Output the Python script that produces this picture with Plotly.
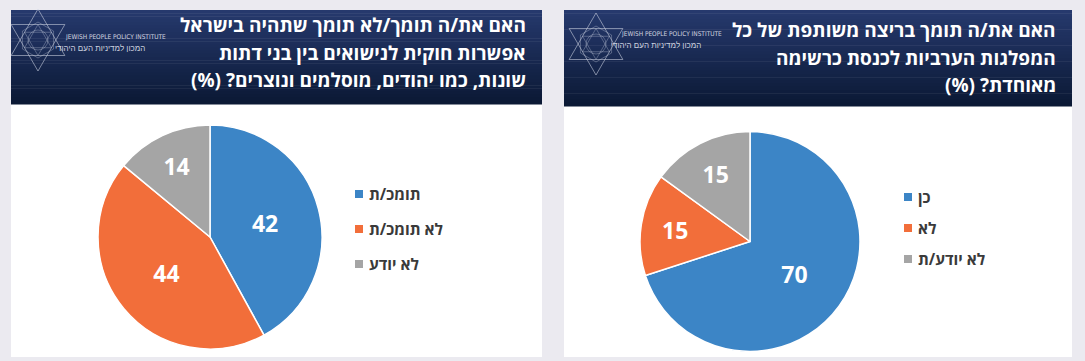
import math
import plotly.graph_objects as go

W, H = 1085, 361

# ---------------- data ----------------
left_title = ["האם את/ה תומך/לא תומך שתהיה בישראל",
              "אפשרות חוקית לנישואים בין בני דתות",
              "שונות, כמו יהודים, מוסלמים ונוצרים? (%)"]
left_labels = ["תומכ/ת", "לא תומכ/ת", "לא יודע"]
left_values = [42, 44, 14]

right_title = ["האם את/ה תומך בריצה משותפת של כל",
               "המפלגות הערביות לכנסת כרשימה",
               "מאוחדת? (%)"]
right_labels = ["כן", "לא", "לא יודע/ת"]
right_values = [70, 15, 15]

colors = ["#3c85c6", "#f26e3a", "#a5a5a5"]

# ---------------- helpers ----------------
def px(x):
    return x / W

def py(y):
    return 1 - y / H

FONT = "Open Sans, Liberation Sans, DejaVu Sans, sans-serif"
RLM = "\u200f"
BG = "#ebeaf0"

fig = go.Figure()
shapes = []
annotations = []

def hex_to_rgb(h):
    h = h.lstrip('#')
    return tuple(int(h[i:i + 2], 16) for i in (0, 2, 4))

def panel(x0, x1, y_top, y_head, y_bot):
    shapes.append(dict(type="rect", xref="paper", yref="paper",
                       x0=px(x0), x1=px(x1), y0=py(y_bot), y1=py(y_top),
                       fillcolor="white", line=dict(width=0), layer="below"))
    top = hex_to_rgb("#26396d")
    bot = hex_to_rgb("#0b1935")
    n = 30
    h = (y_head - y_top) / n
    for i in range(n):
        t = i / (n - 1)
        c = tuple(int(round(top[k] + (bot[k] - top[k]) * t)) for k in range(3))
        shapes.append(dict(type="rect", xref="paper", yref="paper",
                           x0=px(x0), x1=px(x1),
                           y0=py(y_top + (i + 1) * h + 0.5), y1=py(y_top + i * h),
                           fillcolor="rgb(%d,%d,%d)" % c, line=dict(width=0),
                           layer="below"))

def logo(cx, cy, tx, ty):
    r = 31
    lc = "rgba(210,215,230,0.7)"
    def poly(pts):
        return "M " + " L ".join("%f,%f" % (px(x), py(y)) for x, y in pts) + " Z"
    def ring(rad, rot, n):
        return [(cx + rad * math.cos(math.radians(rot + 360 / n * k)),
                 cy - rad * math.sin(math.radians(rot + 360 / n * k))) for k in range(n)]
    for rot in (90, 270):
        shapes.append(dict(type="path", xref="paper", yref="paper",
                           path=poly(ring(r, rot, 3)), line=dict(color=lc, width=0.8)))
    for rot in (90, 270):
        shapes.append(dict(type="path", xref="paper", yref="paper",
                           path=poly(ring(r * 0.5, rot, 3)),
                           line=dict(color="rgba(210,215,230,0.55)", width=0.6)))
    shapes.append(dict(type="path", xref="paper", yref="paper",
                       path=poly(ring(r * 0.58, 30, 6)),
                       line=dict(color="rgba(210,215,230,0.55)", width=0.6)))
    shapes.append(dict(type="circle", xref="paper", yref="paper",
                       x0=px(cx - 10), x1=px(cx + 10), y0=py(cy + 10), y1=py(cy - 10),
                       line=dict(color="rgba(210,215,230,0.55)", width=0.6)))
    annotations.append(dict(xref="paper", yref="paper", x=px(tx), y=py(ty),
                            xanchor="left", yanchor="middle", showarrow=False,
                            text="JEWISH PEOPLE POLICY INSTITUTE",
                            font=dict(family="DejaVu Sans Condensed, Liberation Sans, sans-serif",
                                      size=6.5, color="rgba(225,228,240,0.9)")))
    annotations.append(dict(xref="paper", yref="paper", x=px(tx + 84), y=py(ty + 11),
                            xanchor="right", yanchor="middle", showarrow=False,
                            text="המכון למדיניות העם היהודי",
                            font=dict(family="Liberation Sans, sans-serif",
                                      size=8, color="rgba(225,228,240,0.9)")))

def title(lines, xr, y_first, dy):
    for i, l in enumerate(lines):
        annotations.append(dict(xref="paper", yref="paper", x=px(xr), y=py(y_first + i * dy),
                                xanchor="right", yanchor="middle", align="right",
                                showarrow=False,
                                text="<b>%s</b>" % l + RLM,
                                font=dict(family=FONT, size=19, color="white")))

def legend(labels, x_sq, y0, dy):
    for i, (lab, col) in enumerate(zip(labels, colors)):
        yc = y0 + i * dy
        shapes.append(dict(type="rect", xref="paper", yref="paper",
                           x0=px(x_sq - 4), x1=px(x_sq + 4),
                           y0=py(yc + 4), y1=py(yc - 4),
                           fillcolor=col, line=dict(width=0)))
        annotations.append(dict(xref="paper", yref="paper", x=px(x_sq + 8), y=py(yc),
                                xanchor="left", yanchor="middle", showarrow=False,
                                text="<b>%s</b>" % lab,
                                font=dict(family=FONT, size=15.5, color="#3a3a3a")))

# ---------------- panels ----------------
panel(11, 542, 10, 104, 357)
panel(564, 1072, 10, 106, 357)
logo(38, 40, 63, 37)
logo(596, 44, 619, 34)
title(left_title, 528, 25, 27.5)
title(right_title, 1058, 30, 27.5)
legend(left_labels, 359, 194, 35)
legend(right_labels, 908, 197, 31)

# ---------------- pies ----------------
def pie(labels, values, dom_x, dom_y):
    fig.add_trace(go.Pie(
        labels=labels, values=values, sort=False, direction="clockwise",
        rotation=0, domain=dict(x=dom_x, y=dom_y),
        marker=dict(colors=colors, line=dict(color="white", width=1.5)),
        textinfo="value", textposition="inside", insidetextorientation="horizontal",
        texttemplate="<b>%{value}</b>",
        textfont=dict(family=FONT, size=23, color="white"),
        hoverinfo="label+value", showlegend=False))

pie(left_labels, left_values, [px(98), px(322)], [py(350), py(124)])
pie(right_labels, right_values, [px(640), px(860)], [py(352), py(131)])

fig.update_layout(
    width=W, height=H, margin=dict(l=0, r=0, t=0, b=0),
    paper_bgcolor=BG, plot_bgcolor=BG,
    shapes=shapes, annotations=annotations,
    font=dict(family=FONT), showlegend=False,
)

fig.write_html("out.html", config={"displayModeBar": False},
               post_script="document.body.style.margin='0';"
                           "document.body.style.background='%s';" % BG)
